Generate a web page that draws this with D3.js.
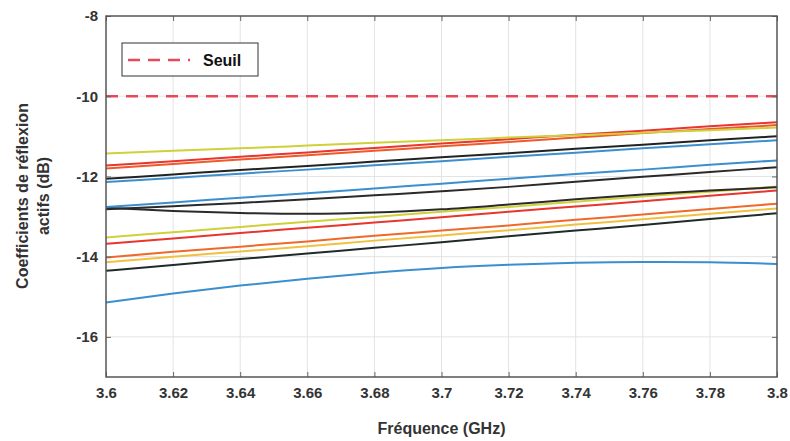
<!DOCTYPE html>
<html><head><meta charset="utf-8">
<script src="https://cdn.jsdelivr.net/npm/d3@7"></script>
<style>body{margin:0;background:#fff}svg{display:block}</style>
</head><body><svg id="c" width="790" height="441"></svg>
<script>
const freqs = [3.60,3.62,3.64,3.66,3.68,3.70,3.72,3.74,3.76,3.78,3.80];
const xTicks = [3.6,3.62,3.64,3.66,3.68,3.7,3.72,3.74,3.76,3.78,3.8];
const yTicks = [-16,-14,-12,-10,-8];
const threshold = -10;
const seriesColors = ["#cfd03a","#e8352d","#ef5a2a","#222222","#3b8fcf","#3b8fcf","#2a2a2a","#2a2a2a","#cfd03a","#e8352d","#ef6a2a","#f0c040","#1f2a2a","#3b8fcf"];
const s1  = [-11.43,-11.36,-11.30,-11.23,-11.16,-11.10,-11.03,-10.97,-10.91,-10.85,-10.78];
const s2  = [-11.73,-11.62,-11.51,-11.40,-11.29,-11.18,-11.07,-10.96,-10.86,-10.75,-10.65];
const s3  = [-11.80,-11.69,-11.58,-11.47,-11.36,-11.25,-11.14,-11.03,-10.92,-10.82,-10.72];
const s4  = [-12.06,-11.95,-11.84,-11.74,-11.63,-11.52,-11.42,-11.31,-11.21,-11.10,-11.00];
const s5  = [-12.14,-12.04,-11.93,-11.83,-11.72,-11.62,-11.51,-11.41,-11.30,-11.20,-11.10];
const s6  = [-12.76,-12.65,-12.53,-12.42,-12.30,-12.18,-12.06,-11.94,-11.83,-11.71,-11.60];
const s7  = [-12.82,-12.74,-12.66,-12.57,-12.47,-12.37,-12.26,-12.13,-12.01,-11.89,-11.77];
const s8  = [-12.78,-12.86,-12.91,-12.93,-12.90,-12.82,-12.70,-12.57,-12.45,-12.35,-12.27];
const s9  = [-13.52,-13.39,-13.26,-13.13,-13.01,-12.88,-12.76,-12.63,-12.50,-12.38,-12.25];
const s10 = [-13.68,-13.55,-13.41,-13.28,-13.15,-13.02,-12.88,-12.75,-12.62,-12.48,-12.35];
const s11 = [-14.02,-13.88,-13.75,-13.62,-13.48,-13.35,-13.22,-13.08,-12.95,-12.81,-12.68];
const s12 = [-14.14,-14.00,-13.87,-13.74,-13.60,-13.47,-13.34,-13.20,-13.07,-12.93,-12.80];
const s13 = [-14.35,-14.21,-14.06,-13.92,-13.78,-13.64,-13.49,-13.35,-13.21,-13.06,-12.92];
const s14 = [-15.14,-14.92,-14.72,-14.55,-14.40,-14.28,-14.20,-14.15,-14.13,-14.14,-14.18];
const allSeries = [s1,s2,s3,s4,s5,s6,s7,s8,s9,s10,s11,s12,s13,s14];
const drawOrder = [13,12,11,10,9,8,7,6,5,4,3,2,1,0];

const svg = d3.select("#c");
const L=106,R=777,T=16,B=377;
const x = d3.scaleLinear().domain([3.6,3.8]).range([L,R]);
const y = d3.scaleLinear().domain([-17,-8]).range([B,T]);
const font = "'Liberation Sans', Arial, sans-serif";

// grid
svg.append("g").selectAll("line").data(xTicks.slice(1,-1)).join("line")
  .attr("x1",d=>x(d)).attr("x2",d=>x(d)).attr("y1",T).attr("y2",B)
  .attr("stroke","#e3e3e3").attr("stroke-width",1);
svg.append("g").selectAll("line").data(yTicks.slice(0,-1)).join("line")
  .attr("x1",L).attr("x2",R).attr("y1",d=>y(d)).attr("y2",d=>y(d))
  .attr("stroke","#e3e3e3").attr("stroke-width",1);

// threshold
svg.append("line").attr("x1",L).attr("x2",R).attr("y1",y(threshold)).attr("y2",y(threshold))
  .attr("stroke","#e8485a").attr("stroke-width",2.5).attr("stroke-dasharray","12,8");

const line = d3.line().x((d,i)=>x(freqs[i])).y(d=>y(d)).curve(d3.curveMonotoneX);
const g = svg.append("g").attr("fill","none");
drawOrder.forEach(i=>{
  g.append("path").attr("d",line(allSeries[i])).attr("stroke",seriesColors[i]).attr("stroke-width",2);
});

// axes
const ax = svg.append("g").attr("transform",`translate(0,${B})`)
  .call(d3.axisBottom(x).tickValues(xTicks).tickSize(-5).tickPadding(10).tickFormat(d=>String(+d.toFixed(2))));
const axT = svg.append("g").attr("transform",`translate(0,${T})`)
  .call(d3.axisTop(x).tickValues(xTicks).tickSize(-5).tickFormat(""));
const ay = svg.append("g").attr("transform",`translate(${L},0)`)
  .call(d3.axisLeft(y).tickValues(yTicks).tickSize(-5).tickPadding(8).tickFormat(d=>String(d)));
const ayR = svg.append("g").attr("transform",`translate(${R},0)`)
  .call(d3.axisRight(y).tickValues(yTicks).tickSize(-5).tickFormat(""));
[ax,axT,ay,ayR].forEach(a=>{
  a.select(".domain").remove();
  a.selectAll(".tick line").attr("stroke","#666");
  a.selectAll("text").attr("font-family",font).attr("font-size",15).attr("font-weight","bold").attr("fill","#333");
});
svg.append("rect").attr("x",L).attr("y",T).attr("width",R-L).attr("height",B-T)
  .attr("fill","none").attr("stroke","#555").attr("stroke-width",1.5);

// legend
svg.append("rect").attr("x",122).attr("y",43).attr("width",136).attr("height",33)
  .attr("fill","#fff").attr("stroke","#333").attr("stroke-width",1);
svg.append("line").attr("x1",128).attr("x2",190).attr("y1",60).attr("y2",60)
  .attr("stroke","#e8485a").attr("stroke-width",2.5).attr("stroke-dasharray","12,8");
svg.append("text").attr("x",203).attr("y",66).text("Seuil")
  .attr("font-family",font).attr("font-size",16).attr("font-weight","bold").attr("fill","#111");

// labels
svg.append("text").attr("x",(L+R)/2).attr("y",434).attr("text-anchor","middle").text("Fréquence (GHz)")
  .attr("font-family",font).attr("font-size",16).attr("font-weight","bold").attr("fill","#333");
const yl = svg.append("text").attr("transform","translate(28,196) rotate(-90)").attr("text-anchor","middle")
  .attr("font-family",font).attr("font-size",16).attr("font-weight","bold").attr("fill","#333");
yl.append("tspan").attr("x",0).attr("dy",0).text("Coefficients de réflexion");
yl.append("tspan").attr("x",0).attr("dy",21).text("actifs (dB)");
</script></body></html>
